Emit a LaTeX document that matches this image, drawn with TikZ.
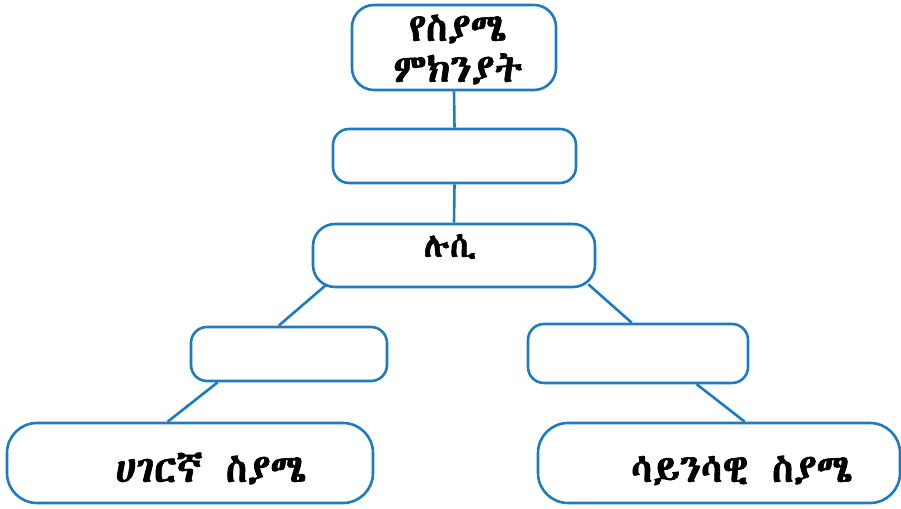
\documentclass[tikz,border=0pt]{standalone}
\usepackage{fontspec}
\IfFontExistsTF{Abyssinica SIL}{\newfontfamily\ethfont[FakeBold=1.6]{Abyssinica SIL}}{%
 \IfFontExistsTF{FreeSerif}{\newfontfamily\ethfont[FakeBold=1.6]{FreeSerif}}{%
  \newfontfamily\ethfont[FakeBold=1.6]{DejaVu Sans}}}
\usetikzlibrary{calc}
\definecolor{lineblue}{HTML}{1E7BC0}
\tikzset{
  box/.style={draw=lineblue, line width=2.6pt, rounded corners=#1, fill=white, inner sep=0pt},
  box/.default=16pt,
  link/.style={draw=lineblue, line width=2.6pt},
  lbl/.style={font=\ethfont\fontsize{39}{41}\selectfont, text=black, anchor=base, inner sep=0pt},
  lblsmall/.style={font=\ethfont\fontsize{34}{40}\selectfont, text=black, anchor=base, inner sep=0pt}
}
\begin{document}
\begin{tikzpicture}[x=1pt,y=1pt]
\useasboundingbox (0,0) rectangle (901,508);
% boxes
\node[box=22pt, minimum width=204pt, minimum height=85pt] (top) at (454,460.5) {};
\node[box, minimum width=243pt, minimum height=54pt] (b2) at (454.5,352) {};
\node[box=22pt, minimum width=282pt, minimum height=63pt] (b3) at (454,252.5) {};
\node[box, minimum width=196pt, minimum height=54pt] (b4) at (289,154) {};
\node[box, minimum width=220pt, minimum height=59pt] (b5) at (638,154.5) {};
\node[box=30pt, minimum width=366pt, minimum height=80pt] (b6) at (190,45) {};
\node[box=30pt, minimum width=362pt, minimum height=80pt] (b7) at (719,45) {};
% texts
\node[lbl, align=center] (t1) at (458,426) {የስያሜ\\ምክንያት};
\node[lblsmall] (t3) at (450,251) {ሉሲ};
\node[lbl] (t6) at (211,26) {ሀገርኛ\hspace{6pt} ስያሜ};
\node[lbl] (t7) at (742,26) {ሳይንሳዊ\hspace{6pt} ስያሜ};
% connectors
\draw[link] (top.south) -- (b2.north);
\draw[link] (b2.south) -- (b3.north);
\draw[link] ($(b3.south west)+(14,3)$) -- ($(b4.north west)+(89,0)$);
\draw[link] ($(b3.south east)+(-8,4)$) -- ($(b5.north west)+(105,0)$);
\draw[link] ($(b4.south west)+(28,0)$) -- ($(b6.north west)+(162,0)$);
\draw[link] ($(b5.south west)+(170,0)$) -- ($(b7.north west)+(208,0)$);
\end{tikzpicture}
\end{document}
